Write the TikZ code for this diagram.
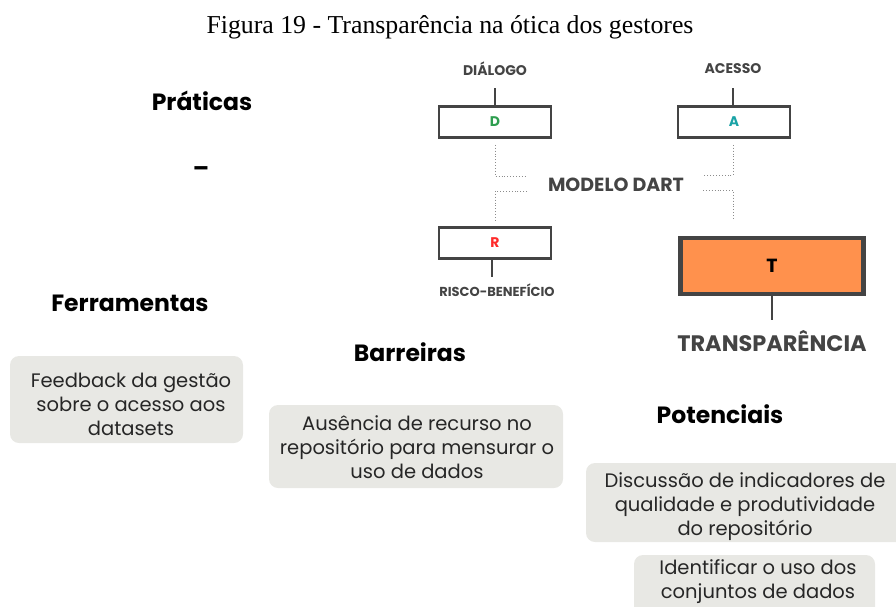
\documentclass[tikz,border=0pt]{standalone}
\usepackage{fontspec}
\setmainfont{Liberation Serif}
\newfontfamily\hfont{Poppins}
\definecolor{boxgray}{HTML}{E8E8E4}
\definecolor{dark}{HTML}{444444}
\definecolor{torange}{HTML}{FF914D}
\definecolor{dgreen}{HTML}{2E9E4F}
\definecolor{ateal}{HTML}{1AA3A6}
\definecolor{rred}{HTML}{FF2A2A}
\tikzset{
  head/.style={font=\hfont\bfseries\fontsize{23.5}{27}\selectfont, text=black, inner sep=0pt},
  graybox/.style={fill=boxgray, rounded corners=9pt, draw=none, align=center,
     font=\hfont\fontsize{19.5}{24}\selectfont, text=black!85, inner sep=0pt},
  dartbox/.style={draw=dark, line width=2.6pt, fill=white, minimum width=112pt, minimum height=31pt,
     font=\hfont\bfseries\fontsize{14}{16}\selectfont, inner sep=0pt},
  smalllab/.style={font=\hfont\bfseries\fontsize{14}{16}\selectfont, text=dark, inner sep=0pt},
  conn/.style={draw=dark, line width=1.6pt},
  dotconn/.style={draw=black!45, line width=0.9pt, dotted},
}
\begin{document}
\begin{tikzpicture}[x=1pt,y=-1pt]
\useasboundingbox (0,0) rectangle (896,606);
% title
\node[font=\fontsize{25.8}{30}\selectfont, inner sep=0pt] (title) at (450,27) {Figura 19 - Transparência na ótica dos gestores};
% headings
\node[head] (prat) at (202,101) {Práticas};
\node[head] (dash) at (201,172) {–};
\node[head] (ferr) at (130,303) {Ferramentas};
\node[head] (barr) at (410,352) {Barreiras};
\node[head] (pot) at (720,414) {Potenciais};
% gray boxes
\fill[boxgray, rounded corners=9pt] (10,356) rectangle (243,443);
\node[graybox] (fb) at (131,404) {Feedback da gestão\\sobre o acesso aos\\datasets};
\fill[boxgray, rounded corners=9pt] (269,405) rectangle (563,488);
\node[graybox] (aus) at (417,447) {Ausência de recurso no\\repositório para mensurar o\\uso de dados};
\fill[boxgray, rounded corners=9pt] (586,463) rectangle (906,542);
\node[graybox] (disc) at (745,507) {Discussão de indicadores de\\qualidade e produtividade\\do repositório};
\fill[boxgray, rounded corners=9pt] (634,555) rectangle (875,620);
\node[graybox] (ident) at (758,582) {Identificar o uso dos\\conjuntos de dados};
% DART model
\node[smalllab] (dial) at (495,69) {DIÁLOGO};
\node[smalllab] (aces) at (733,69) {ACESSO};
\node[dartbox, text=dgreen] (D) at (495,122) {D};
\node[dartbox, text=ateal] (A) at (734,122) {A};
\node[dartbox, text=rred] (R) at (495,243) {R};
\node[draw=dark, line width=4.5pt, fill=torange, minimum width=183pt, minimum height=56pt,
      font=\hfont\bfseries\fontsize{19}{22}\selectfont, inner sep=0pt] (T) at (772,266) {T};
\node[font=\hfont\bfseries\fontsize{13}{15}\selectfont, text=dark, inner sep=0pt] (risco) at (497,290) {RISCO-BENEFÍCIO};
\node[font=\hfont\bfseries\fontsize{22.4}{26}\selectfont, text=dark, inner sep=0pt] (transp) at (772,341) {TRANSPARÊNCIA};
\node[font=\hfont\bfseries\fontsize{19}{22}\selectfont, text=dark, inner sep=0pt] (modelo) at (616,185) {MODELO DART};
% solid connectors
\coordinate (dialb) at (495,88);
\coordinate (acesb) at (733,88);
\coordinate (riscot) at (492,277);
\coordinate (transpt) at (772,320);
\draw[conn] (dialb) -- (D.north);
\draw[conn] (acesb) -- (acesb |- A.north);
\draw[conn] (riscot |- R.south) -- (riscot);
\draw[conn] (transpt |- T.south) -- (transpt);
% dotted connectors
\coordinate (m1) at (527,176);
\coordinate (m2) at (527,191);
\coordinate (m3) at (703,175);
\coordinate (m4) at (703,190);
\draw[dotconn] ([yshift=-6pt]D.south) -- (495,176) -- (m1);
\draw[dotconn] (m2) -- (495,191) -- ([yshift=6pt]R.north);
\draw[dotconn] ([yshift=-6pt]A.south -| 733,0) -- (733,175) -- (m3);
\draw[dotconn] (m4) -- (733,190) -- (733,220);
\end{tikzpicture}
\end{document}
